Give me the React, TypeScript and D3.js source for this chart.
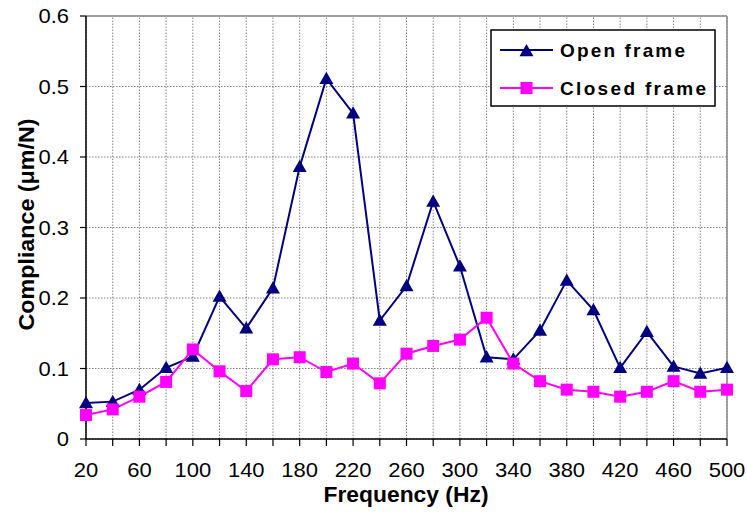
import React from "react";
import * as d3 from "d3";

// frequencies (Hz), one reading every 20 Hz
const freqs = [20, 40, 60, 80, 100, 120, 140, 160, 180, 200, 220, 240, 260, 280, 300, 320, 340, 360, 380, 400, 420, 440, 460, 480, 500];
const openFrame = [0.051, 0.053, 0.07, 0.101, 0.117, 0.202, 0.157, 0.214, 0.386, 0.511, 0.462, 0.168, 0.217, 0.337, 0.245, 0.116, 0.113, 0.154, 0.225, 0.183, 0.101, 0.152, 0.103, 0.093, 0.101];
const closedFrame = [0.034, 0.042, 0.06, 0.081, 0.127, 0.096, 0.068, 0.113, 0.116, 0.095, 0.107, 0.079, 0.121, 0.132, 0.141, 0.172, 0.107, 0.082, 0.07, 0.067, 0.06, 0.067, 0.082, 0.067, 0.07];
const xTickLabels = [20, 60, 100, 140, 180, 220, 260, 300, 340, 380, 420, 460, 500];
const yTicks = [0, 0.1, 0.2, 0.3, 0.4, 0.5, 0.6];

const W = 747;
const H = 513;
const margin = { top: 16, right: 20, bottom: 74, left: 86 };
const font = "'Liberation Sans', Arial, sans-serif";

export default function App() {
  const x = d3.scaleLinear().domain([20, 500]).range([margin.left, W - margin.right]);
  const y = d3.scaleLinear().domain([0, 0.6]).range([H - margin.bottom, margin.top]);
  const line = d3
    .line<number>()
    .x((_, i) => x(freqs[i]))
    .y((d) => y(d));

  const tri = (cx: number, cy: number, s = 7) =>
    `M${cx},${cy - s}L${cx + s},${cy + s * 0.75}L${cx - s},${cy + s * 0.75}Z`;

  const x0 = x(20), x1 = x(500), y0 = y(0), y1 = y(0.6);

  return (
    <svg width={W} height={H} style={{ position: "absolute", left: 0, top: 0, background: "#fff" }} fontFamily={font}>
      {/* grid */}
      {freqs.map((f) => (
        <line key={"gx" + f} x1={x(f)} x2={x(f)} y1={y0} y2={y1} stroke="#666" strokeWidth={0.8} strokeDasharray="1.5,1.5" />
      ))}
      {yTicks.map((t) => (
        <line key={"gy" + t} x1={x0} x2={x1} y1={y(t)} y2={y(t)} stroke="#666" strokeWidth={0.8} strokeDasharray="1.5,1.5" />
      ))}
      {/* top and right frame */}
      <line x1={x0} x2={x1} y1={y1} y2={y1} stroke="#888" strokeWidth={1.5} />
      <line x1={x1} x2={x1} y1={y1} y2={y0} stroke="#888" strokeWidth={1.5} />
      {/* axes */}
      <line x1={x0} x2={x0} y1={y1} y2={y0} stroke="#000" strokeWidth={1.5} />
      <line x1={x0} x2={x1} y1={y0} y2={y0} stroke="#000" strokeWidth={1.5} />
      {yTicks.map((t) => (
        <g key={"yt" + t}>
          <line x1={x0 - 6} x2={x0} y1={y(t)} y2={y(t)} stroke="#000" strokeWidth={1.2} />
          <text transform={`translate(${x0 - 17},${y(t)}) scale(1.1,1)`} dy="0.35em" textAnchor="end" fontSize={20}>{t}</text>
        </g>
      ))}
      {freqs.map((f) => (
        <line key={"xt" + f} x1={x(f)} x2={x(f)} y1={y0} y2={y0 + 7} stroke="#000" strokeWidth={1.2} />
      ))}
      {xTickLabels.map((f) => (
        <text key={"xl" + f} transform={`translate(${x(f)},${y0 + 38}) scale(1.1,1)`} textAnchor="middle" fontSize={20}>{f}</text>
      ))}
      {/* axis titles */}
      <text x={406} y={502} textAnchor="middle" fontSize={22} fontWeight="bold" textLength={165} lengthAdjust="spacingAndGlyphs">Frequency (Hz)</text>
      <text transform={`translate(34,${(y0 + y1) / 2 - 3}) rotate(-90)`} textAnchor="middle" fontSize={22} fontWeight="bold" textLength={212} lengthAdjust="spacingAndGlyphs">Compliance (μm/N)</text>
      {/* series */}
      <path d={line(openFrame) || ""} fill="none" stroke="#000080" strokeWidth={2} />
      <path d={line(closedFrame) || ""} fill="none" stroke="#ff00ff" strokeWidth={2} />
      {openFrame.map((v, i) => (
        <path key={"o" + i} d={tri(x(freqs[i]), y(v))} fill="#000080" />
      ))}
      {closedFrame.map((v, i) => (
        <rect key={"c" + i} x={x(freqs[i]) - 6} y={y(v) - 6} width={12} height={12} fill="#ff00ff" />
      ))}
      {/* legend */}
      <g>
        <rect x={491} y={30} width={224} height={76} fill="#fff" stroke="#000" strokeWidth={1.5} />
        <line x1={500} x2={553} y1={50} y2={50} stroke="#000080" strokeWidth={2} />
        <path d={tri(526.5, 51)} fill="#000080" />
        <text x={560} y={57} fontSize={19} fontWeight="bold" textLength={125}>Open frame</text>
        <line x1={500} x2={553} y1={88} y2={88} stroke="#ff00ff" strokeWidth={2} />
        <rect x={520.5} y={82} width={12} height={12} fill="#ff00ff" />
        <text x={560} y={95} fontSize={19} fontWeight="bold" textLength={146}>Closed frame</text>
      </g>
    </svg>
  );
}
